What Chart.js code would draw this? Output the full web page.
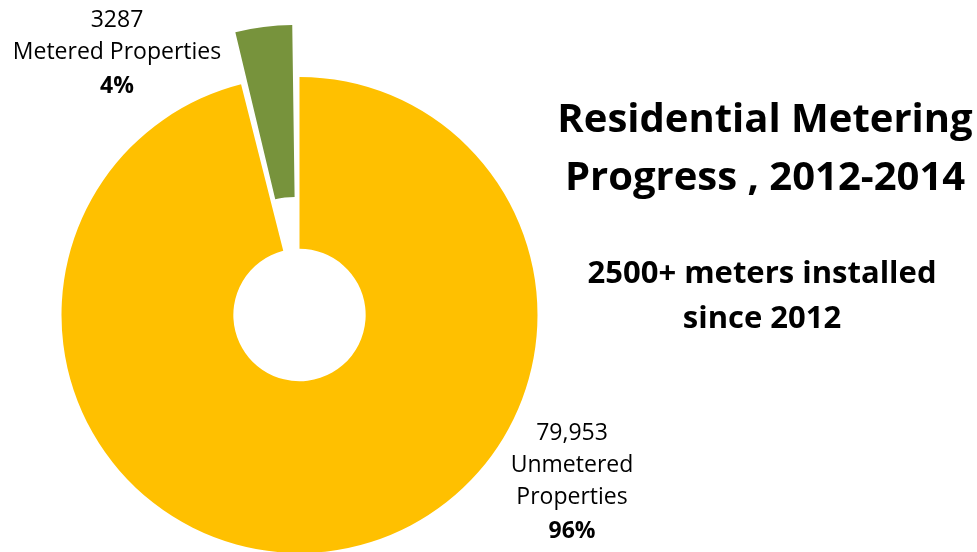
<!DOCTYPE html>
<html>
<head>
<meta charset="utf-8">
<script src="https://cdn.jsdelivr.net/npm/chart.js@4/dist/chart.umd.min.js"></script>
<style>
  html, body { margin: 0; padding: 0; background: #fff; overflow: hidden; }
  #wrap { position: relative; width: 977px; height: 552px; }
  #chart { position: absolute; left: 0; top: 0; }
  .txt { position: absolute; font-family: "Open Sans", sans-serif; font-variant-ligatures: none; color: #000; text-align: center; white-space: nowrap; transform: translateX(-50%); }
  .title { font-weight: bold; font-size: 40px; line-height: 58px; }
  .sub { font-weight: bold; font-size: 31px; line-height: 45px; }
  .lbl { font-size: 23px; line-height: 32px; }
  .lbl b { display: block; line-height: 36px; }
</style>
</head>
<body>
<div id="wrap">
  <canvas id="chart" width="977" height="552"></canvas>
  <div class="txt title" style="left:765px; top:88px;">Residential Metering<br>Progress , 2012-2014</div>
  <div class="txt sub" style="left:762px; top:249px;">2500+ meters installed<br>since 2012</div>
</div>
<script>
(() => {
  'use strict'

  const categories = ['Unmetered Properties', 'Metered Properties'];
  const propertyCounts = [79953, 3287];
  const countLabels = ['79,953', '3287'];
  const labelLines = [['Unmetered', 'Properties'], ['Metered Properties']];
  const sliceColors = ['#FFC000', '#77933C'];

  // exploded slice (Chart.js moves an arc by roughly offset / 2.3 px)
  const sliceOffsets = [0, 119];

  // where each data label sits (centre x, top y)
  const labelPlaces = [
    { x: 572, y: 415 },
    { x: 117, y: 2 }
  ];

  const total = propertyCounts.reduce((a, b) => a + b, 0);
  const wrapElem = document.getElementById('wrap');

  categories.forEach((cat, i) => {
    const pct = Math.round(propertyCounts[i] / total * 100);
    const div = document.createElement('div');
    div.className = 'txt lbl';
    div.style.left = labelPlaces[i].x + 'px';
    div.style.top = labelPlaces[i].y + 'px';
    div.innerHTML = [countLabels[i], ...labelLines[i]].join('<br>') + '<b>' + pct + '%</b>';
    wrapElem.appendChild(div);
  });

  new Chart(document.getElementById('chart'), {
    type: 'doughnut',
    data: {
      labels: categories,
      datasets: [{
        data: propertyCounts,
        backgroundColor: sliceColors,
        borderWidth: 0,
        offset: sliceOffsets,
        hoverOffset: 0,
        clip: false
      }]
    },
    options: {
      responsive: false,
      animation: false,
      devicePixelRatio: 1,
      radius: 238,
      cutout: '27.8%',
      layout: {
        padding: { left: 0, right: 378, top: 78, bottom: 0 }
      },
      plugins: {
        legend: { display: false },
        tooltip: { enabled: false },
        title: { display: false }
      }
    }
  })
})()
</script>
</body>
</html>
